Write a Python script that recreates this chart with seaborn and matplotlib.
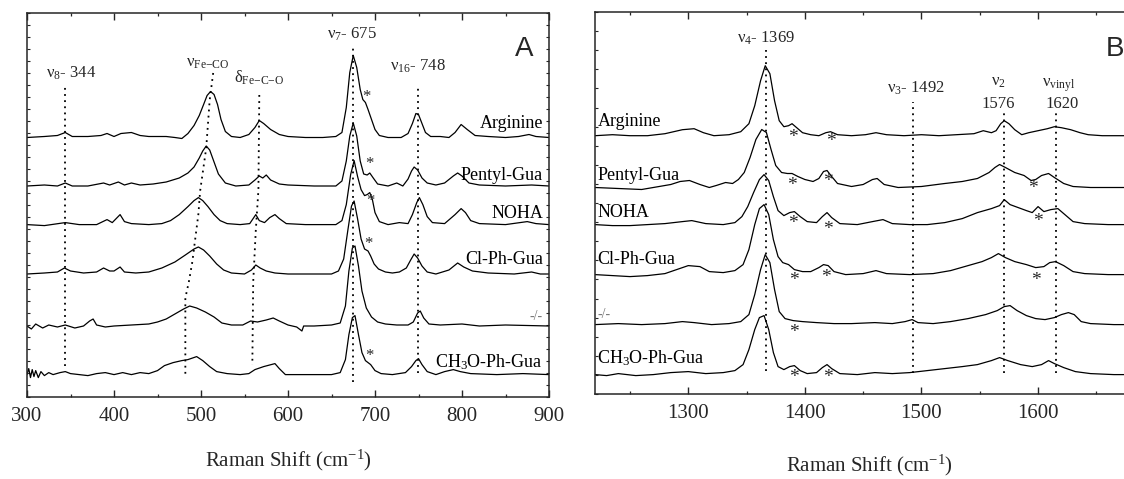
import numpy as np
import pandas as pd
import matplotlib
matplotlib.use("Agg")
import matplotlib.pyplot as plt
from matplotlib.ticker import MultipleLocator, NullFormatter
import seaborn as sns

# muestras (de arriba hacia abajo) y desplazamiento vertical de cada espectro
SAMPLES = ["Arginine", "Pentyl-Gua", "NOHA", "Cl-Ph-Gua", "-/-", "CH$_3$O-Ph-Gua"]
OFFSETS_A = [259.5, 211, 172.4, 123, 71, 22.4]
OFFSETS_B = [258.3, 206.5, 169.4, 119.4, 69.4, 19.4]

# ---- panel A: 300-900 cm-1 (x, altura sobre la linea base) ----
arg_a_x = [300, 320, 335, 344, 352, 370, 385, 392, 400, 408, 420, 430, 440, 460, 470, 478, 485, 492, 498, 503,
           507, 511, 515, 519, 523, 528, 535, 545, 555, 562, 567, 572, 580, 590, 600, 620, 640, 655, 662, 667,
           671, 675, 679, 683, 686, 689, 692, 696, 700, 705, 715, 730, 738, 743, 747, 750, 754, 758, 764, 775,
           785, 792, 799, 806, 815, 830, 850, 865, 877, 885, 900]
arg_a_y = [0, 1, 2, 5, 1, 1, 2, 4, 1, 4, 5, 2, 1, 1, 0, -1, 4, 12, 22, 33,
           42, 46, 43, 33, 18, 6, 1, 0, 3, 10, 17, 14, 8, 3, 1, 0, 0, 1, 5, 30,
           65, 82, 70, 48, 38, 35, 28, 18, 8, 2, 0, 0, 4, 14, 24, 23, 14, 5, 1, 1,
           0, 5, 13, 8, 2, 1, 0, 1, 3, 1, 0]

pen_a_x = [300, 320, 335, 344, 352, 370, 388, 395, 405, 412, 420, 430, 445, 460, 475, 485, 492, 498, 502, 506,
           510, 515, 520, 528, 540, 555, 562, 567, 571, 575, 580, 590, 600, 630, 655, 662, 667, 671, 675, 679,
           683, 687, 691, 694, 698, 703, 715, 725, 732, 738, 742, 745, 749, 754, 760, 770, 780, 790, 795, 800,
           808, 820, 850, 880, 900]
pen_a_y = [0, 1, 0, 3, 0, 0, 3, 1, 4, 1, 3, 1, 2, 4, 8, 13, 19, 28, 35, 40,
           36, 24, 12, 3, 0, 1, 6, 10, 8, 11, 6, 2, 1, 0, 0, 5, 25, 50, 63, 50,
           25, 12, 11, 13, 8, 2, 0, 3, 0, 7, 15, 19, 16, 8, 3, 1, 3, 10, 13, 10,
           3, 1, 0, 1, 0]

noha_a_x = [300, 320, 344, 360, 380, 392, 398, 407, 412, 420, 440, 455, 465, 475, 485, 492, 497, 502, 508, 515,
            522, 530, 545, 556, 563, 567, 573, 579, 585, 590, 598, 620, 655, 662, 667, 672, 676, 680, 684, 688,
            691, 694, 697, 700, 705, 715, 728, 738, 743, 748, 751, 755, 760, 766, 780, 792, 799, 804, 810, 820,
            850, 875, 885, 900]
noha_a_y = [0, -1, 2, 0, 0, 5, 2, 10, 3, 1, 0, 1, 4, 10, 18, 24, 27, 24, 18, 10,
            4, 1, 0, 1, 10, 4, 2, 7, 10, 6, 1, 0, 0, 4, 20, 50, 64, 48, 35, 29,
            30, 32, 25, 12, 3, 0, 2, 1, 10, 22, 27, 20, 8, 2, 1, 10, 16, 12, 4, 1,
            0, 3, 1, 0]

clph_a_x = [300, 320, 335, 343, 350, 365, 380, 388, 395, 400, 407, 412, 425, 440, 455, 470, 482, 492, 497, 503,
            510, 518, 526, 535, 550, 558, 563, 568, 575, 585, 600, 650, 658, 664, 669, 673, 676, 680, 684, 688,
            692, 695, 699, 704, 712, 720, 728, 736, 741, 745, 749, 754, 760, 770, 785, 795, 802, 812, 830, 860,
            880, 890, 900]
clph_a_y = [0, 1, 2, 6, 3, 1, 2, 6, 3, 3, 7, 2, 1, 2, 6, 12, 19, 25, 27, 24,
            18, 10, 4, 1, 0, 4, 9, 6, 3, 1, 0, 0, 3, 15, 45, 68, 73, 55, 35, 25,
            23, 18, 10, 5, 2, 1, 2, 6, 14, 20, 16, 8, 2, 0, 4, 11, 7, 3, 1, 0,
            2, 0, 0]

ko_a_x = [300, 305, 310, 318, 325, 335, 344, 355, 365, 372, 376, 380, 390, 400, 420, 440, 450, 460, 470, 480,
          487, 495, 505, 515, 524, 535, 548, 557, 565, 575, 583, 590, 600, 610, 616, 618, 630, 650, 660, 666,
          670, 674, 677, 681, 685, 690, 696, 703, 712, 725, 738, 744, 749, 752, 756, 762, 775, 800, 820, 850,
          900]
ko_a_y = [0, -3, 2, -2, 1, -1, 1, -2, 0, 5, 7, 1, -1, 0, 1, 2, 4, 7, 12, 17,
          20, 18, 14, 9, 3, 1, 1, 5, 4, 6, 8, 5, 1, -1, -5, 0, 0, 1, 3, 20,
          55, 78, 80, 60, 35, 18, 9, 4, 2, 1, 1, 4, 13, 15, 8, 2, 1, 2, 0, 1,
          0]

meo_a_x = [300, 302, 304, 306, 308, 310, 313, 316, 320, 325, 330, 338, 344, 350, 360, 370, 380, 390, 400, 410,
           420, 430, 440, 450, 458, 468, 478, 485, 495, 502, 510, 518, 530, 545, 555, 562, 572, 585, 590, 597,
           620, 650, 660, 666, 670, 674, 677, 681, 685, 689, 692, 695, 700, 707, 720, 735, 742, 747, 750, 754,
           760, 770, 780, 790, 798, 810, 840, 870, 900]
meo_a_y = [0, 6, -3, 5, -2, 4, -3, 3, -1, 2, 0, 2, 3, 1, 0, -1, 1, 2, 0, 2,
           0, 2, 1, 4, 9, 12, 14, 15, 18, 14, 8, 3, 1, 0, 1, 5, 8, 11, 6, 0,
           0, 0, 2, 15, 40, 57, 59, 40, 22, 14, 12, 10, 4, 1, 0, 2, 8, 14, 16, 10,
           3, 0, 3, 5, 3, 1, 0, 1, 0]

# ---- panel B: 1220-1690 cm-1 ----
arg_b_x = [1220, 1235, 1250, 1265, 1280, 1295, 1305, 1313, 1322, 1335, 1345, 1352, 1357, 1362, 1366, 1370, 1374,
           1378, 1382, 1386, 1389, 1393, 1398, 1405, 1412, 1418, 1422, 1428, 1440, 1452, 1461, 1470, 1485, 1500,
           1515, 1530, 1545, 1553, 1560, 1564, 1568, 1571, 1575, 1580, 1586, 1592, 1600, 1608, 1614, 1620, 1628,
           1636, 1643, 1655, 1670, 1690]
arg_b_y = [0, 1, 0, 0, 2, 6, 7, 3, 0, 1, 4, 12, 30, 55, 70, 62, 35,
           15, 9, 10, 12, 8, 3, 1, 0, 3, 4, 1, 0, 1, 3, 1, 0, 1,
           0, 1, 2, 5, 3, 5, 12, 15, 12, 6, 1, 3, 5, 7, 9, 8, 6,
           3, 1, 0, 0, 0]

pen_b_x = [1220, 1240, 1260, 1275, 1285, 1293, 1301, 1310, 1318, 1324, 1332, 1338, 1343, 1348, 1353, 1358, 1363,
           1367, 1371, 1375, 1380, 1385, 1389, 1394, 1400, 1407, 1412, 1416, 1419, 1423, 1428, 1440, 1450, 1458,
           1462, 1468, 1480, 1500, 1520, 1535, 1548, 1558, 1563, 1567, 1572, 1580, 1588, 1594, 1598, 1603, 1609,
           1614, 1622, 1630, 1645, 1670, 1690]
pen_b_y = [0, -1, -2, 1, 3, 6, 7, 3, 0, 2, 5, 4, 8, 15, 30, 48, 58,
           55, 38, 22, 15, 14, 14, 11, 8, 6, 9, 16, 17, 11, 4, 1, 3, 8,
           9, 3, 0, 1, 4, 6, 9, 15, 20, 23, 20, 15, 12, 7, 8, 12, 14,
           10, 4, 1, 0, 0, 0]

noha_b_x = [1220, 1235, 1250, 1265, 1280, 1295, 1303, 1315, 1330, 1340, 1346, 1351, 1356, 1361, 1365, 1369, 1373,
            1377, 1382, 1387, 1391, 1396, 1402, 1410, 1415, 1419, 1423, 1430, 1445, 1458, 1467, 1475, 1490, 1505,
            1520, 1535, 1548, 1560, 1567, 1571, 1576, 1583, 1590, 1595, 1600, 1605, 1611, 1617, 1623, 1630, 1640,
            1660, 1690]
noha_b_y = [0, -1, -1, 0, 1, 3, 4, 1, 0, 2, 8, 18, 32, 45, 50, 44, 28,
            14, 9, 12, 13, 8, 3, 2, 8, 12, 7, 1, 0, 3, 5, 1, 0, 0,
            2, 6, 12, 16, 19, 25, 20, 17, 14, 12, 18, 13, 15, 16, 10, 3, 1,
            0, 0]

clph_b_x = [1220, 1235, 1250, 1265, 1280, 1290, 1300, 1310, 1318, 1330, 1340, 1347, 1352, 1357, 1361, 1365, 1369,
            1373, 1377, 1381, 1386, 1391, 1398, 1405, 1412, 1416, 1420, 1425, 1435, 1450, 1461, 1470, 1490, 1510,
            1525, 1540, 1552, 1560, 1566, 1572, 1580, 1590, 1598, 1605, 1610, 1615, 1622, 1630, 1640, 1660, 1690]
clph_b_y = [0, -1, -2, -1, 1, 5, 9, 8, 3, 2, 4, 10, 25, 50, 66, 70, 60,
            35, 18, 12, 10, 5, 3, 3, 7, 10, 9, 3, 0, 1, 4, 1, 0, 1,
            4, 9, 13, 17, 21, 17, 13, 10, 7, 8, 12, 13, 9, 3, 1, 0, 0]

ko_b_x = [1220, 1240, 1260, 1280, 1295, 1305, 1320, 1335, 1345, 1352, 1357, 1362, 1366, 1370, 1374, 1378, 1383,
          1390, 1398, 1410, 1425, 1440, 1460, 1475, 1486, 1492, 1497, 1510, 1525, 1540, 1555, 1565, 1571, 1576,
          1582, 1590, 1598, 1606, 1614, 1620, 1626, 1631, 1637, 1645, 1665, 1690]
ko_b_y = [0, 1, 0, 1, 3, 2, 0, 1, 3, 10, 30, 55, 70, 62, 35, 13, 6,
          4, 3, 2, 1, 1, 2, 1, 3, 5, 2, 1, 3, 6, 10, 14, 18, 19,
          14, 9, 6, 5, 7, 10, 12, 10, 3, 1, 0, 0]

meo_b_x = [1220, 1230, 1240, 1255, 1270, 1285, 1300, 1315, 1330, 1340, 1347, 1352, 1357, 1361, 1365, 1369, 1373,
           1377, 1382, 1387, 1391, 1396, 1402, 1410, 1415, 1419, 1423, 1430, 1445, 1460, 1475, 1490, 1505, 1520,
           1535, 1548, 1560, 1567, 1574, 1585, 1595, 1603, 1609, 1614, 1622, 1632, 1645, 1665, 1690]
meo_b_y = [0, -1, 1, -1, 0, 2, 3, 1, 2, 4, 10, 25, 45, 57, 59, 45, 22,
           8, 5, 8, 9, 4, 1, 2, 7, 10, 6, 1, 0, 2, 1, 2, 4, 6,
           8, 10, 14, 17, 14, 10, 8, 10, 14, 11, 7, 3, 1, 0, 0]

TRACES_A = [(arg_a_x, arg_a_y), (pen_a_x, pen_a_y), (noha_a_x, noha_a_y),
            (clph_a_x, clph_a_y), (ko_a_x, ko_a_y), (meo_a_x, meo_a_y)]
TRACES_B = [(arg_b_x, arg_b_y), (pen_b_x, pen_b_y), (noha_b_x, noha_b_y),
            (clph_b_x, clph_b_y), (ko_b_x, ko_b_y), (meo_b_x, meo_b_y)]

# bandas marcadas (lineas punteadas)
BANDS_A = [344, 675, 749]
BANDS_B = [1367, 1493, 1571, 1615]
FECO_X = [514, 510, 506, 499, 497, 490, 486, 482, 482]
FECO_Y = [324, 297, 249, 206, 183, 135, 115, 99, 22]
FECO2_X = [567, 566, 563, 560, 559]
FECO2_Y = [302, 207, 167, 115, 32]


def to_long(traces, offsets):
    rows = []
    for name, (xs, hs), off in zip(SAMPLES, traces, offsets):
        for x, h in zip(xs, hs):
            rows.append({"sample": name, "shift": x, "intensity": off + h})
    return pd.DataFrame(rows)


df_a = to_long(TRACES_A, OFFSETS_A)
df_b = to_long(TRACES_B, OFFSETS_B)

sns.set_theme(style="ticks")
plt.rcParams["font.family"] = ["Liberation Serif", "DejaVu Serif"]
plt.rcParams["mathtext.fontset"] = "custom"
plt.rcParams["mathtext.rm"] = "Liberation Serif"
plt.rcParams["mathtext.it"] = "Liberation Serif"
plt.rcParams["mathtext.default"] = "rm"
plt.rcParams["axes.linewidth"] = 1.1

W, H = 1124, 479
fig = plt.figure(figsize=(W / 100, H / 100), dpi=100)
axA = fig.add_axes([27 / W, 82 / H, 522 / W, 384 / H])
axB = fig.add_axes([595 / W, 85 / H, 548 / W, 382 / H])

sns.lineplot(data=df_a, x="shift", y="intensity", units="sample", estimator=None, sort=False,
             color="black", lw=0.9, ax=axA, legend=False)
sns.lineplot(data=df_b, x="shift", y="intensity", units="sample", estimator=None, sort=False,
             color="black", lw=0.9, ax=axB, legend=False)

dot = (0, (1, 2.4))
dkw = dict(color="black", lw=1.3, linestyle=dot)

# --- panel A decoracion ---
axA.vlines(BANDS_A[0], 31, 313, **dkw)
axA.vlines(BANDS_A[1], 15, 349, **dkw)
axA.vlines(BANDS_A[2], 24, 309, **dkw)
axA.plot(FECO_X, FECO_Y, **dkw)
axA.plot(FECO2_X, FECO2_Y, **dkw)

fs = 12
axA.text(351, 324, "ν$_8$- 344", fontsize=fs, ha="center", va="center")
axA.text(508, 334, "ν$_{Fe{-}CO}$", fontsize=fs, ha="center", va="center")
axA.text(567, 319, "δ$_{Fe{-}C{-}O}$", fontsize=fs, ha="center", va="center")
axA.text(674, 363, "ν$_7$- 675", fontsize=fs, ha="center", va="center")
axA.text(749, 331, "ν$_{16}$- 748", fontsize=fs, ha="center", va="center")
axA.text(872, 348, "A", fontsize=20, family="Liberation Sans", ha="center", va="center")

lab_y_a = [274, 222, 183, 137, 80, 35]
for name, y in zip(SAMPLES, lab_y_a):
    gray = name == "-/-"
    axA.text(893, y, name, fontsize=10 if gray else 13, color="#777777" if gray else "black",
             ha="right", va="center")

for x, y in [(690, 305), (694, 238), (695, 201), (692, 158), (693, 46)]:
    axA.text(x, y - 9, "*", fontsize=12, ha="center", va="baseline")

# --- panel B decoracion ---
axB.vlines(BANDS_B[0], 23, 344, **dkw)
axB.vlines(BANDS_B[1], 21, 292, **dkw)
axB.vlines(BANDS_B[2], 21, 281, **dkw)
axB.vlines(BANDS_B[3], 21, 281, **dkw)

axB.text(1367, 356, "ν$_4$- 1369", fontsize=fs, ha="center", va="center")
axB.text(1495, 306, "ν$_3$- 1492", fontsize=fs, ha="center", va="center")
axB.text(1566, 312, "ν$_2$", fontsize=fs, ha="center", va="center")
axB.text(1566, 290, "1576", fontsize=fs, ha="center", va="center")
axB.text(1618, 309, "ν$_{vinyl}$", fontsize=fs, ha="center", va="center")
axB.text(1621, 290, "1620", fontsize=fs, ha="center", va="center")
axB.text(1658, 345, "B", fontsize=20, family="Liberation Sans", ha="left", va="center")

lab_y_b = [272.6, 218.3, 181.1, 135, 79, 35.4]
for name, y in zip(SAMPLES, lab_y_b):
    gray = name == "-/-"
    axB.text(1222, y, name, fontsize=10 if gray else 13, color="#777777" if gray else "black",
             ha="left", va="center")

stars_b = [(1390, 262), (1422, 258), (1389, 214), (1420, 218), (1596, 211),
           (1390, 176), (1420, 170), (1600, 178), (1391, 119), (1418, 122),
           (1598, 119), (1391, 67), (1391, 22), (1420, 22)]
for x, y in stars_b:
    axB.text(x, y - 10, "*", fontsize=14, ha="center", va="baseline")

# --- ejes ---
for ax, xlim, ylim, ystep in [(axA, (300, 900), (0, 384), 12), (axB, (1220, 1690), (0, 382), 19.1)]:
    ax.set_xlim(*xlim)
    ax.set_ylim(*ylim)
    ax.xaxis.set_major_locator(MultipleLocator(100))
    ax.xaxis.set_minor_locator(MultipleLocator(50))
    ax.yaxis.set_major_locator(MultipleLocator(ystep))
    ax.yaxis.set_major_formatter(NullFormatter())
    ax.tick_params(axis="x", which="major", direction="in", length=5, width=1.0, top=True,
                   labelsize=15, pad=7)
    ax.tick_params(axis="x", which="minor", direction="in", length=2.5, width=0.9, top=True)
    ax.tick_params(axis="y", which="major", direction="in", length=2, width=0.8, right=True)
    ax.set_ylabel("")
    for s in ax.spines.values():
        s.set_visible(True)
        s.set_linewidth(1.1)

axA.set_xlabel("Raman Shift (cm$^{-1}$)", fontsize=15)
axA.xaxis.set_label_coords(0.5, -51 / 384)
axB.set_xlabel("Raman Shift (cm$^{-1}$)", fontsize=15)
axB.xaxis.set_label_coords(0.5, -59 / 382)

fig.savefig("out.png", dpi=100, facecolor="white")
